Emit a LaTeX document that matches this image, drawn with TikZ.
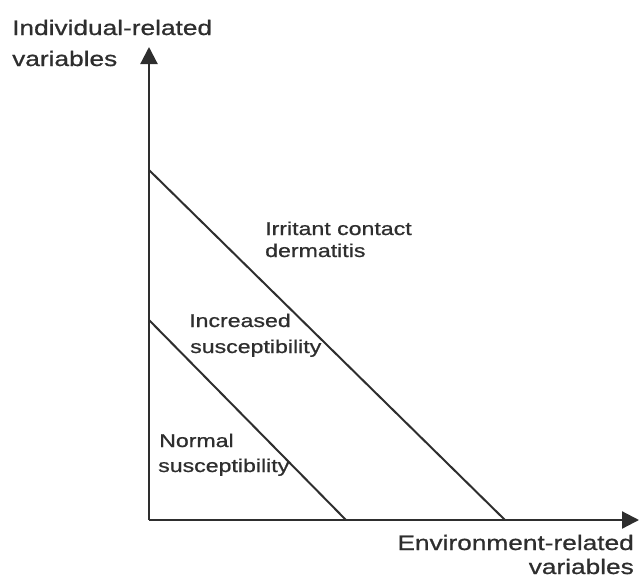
\documentclass[tikz,border=0pt]{standalone}
\usepackage{fontspec}
\setmainfont{Liberation Sans}[FakeStretch=1.25,FakeBold=0.8]
\usetikzlibrary{arrows.meta}
\definecolor{ink}{HTML}{2E2E2E}
\tikzset{
  axis/.style={draw=ink, line width=2.2pt, -{Triangle[length=17pt,width=17pt]}},
  bound/.style={draw=ink, line width=2pt},
  axlabel/.style={text=ink, font=\fontsize{21}{25}\selectfont, inner sep=0pt},
  reglabel/.style={text=ink, font=\fontsize{18.5}{25}\selectfont, inner sep=0pt, anchor=base west},
}
\begin{document}
\begin{tikzpicture}[x=1pt,y=-1pt]
\useasboundingbox (0,0) rectangle (639,579);
\coordinate (O) at (149,520);
\coordinate (Ytop) at (149,47);
\coordinate (Xend) at (639,520);
\coordinate (A1) at (149,170);
\coordinate (B1) at (505,520);
\coordinate (A2) at (149,320);
\coordinate (B2) at (346,520);
\draw[axis] (O) -- (Ytop);
\draw[axis] (O) -- (Xend);
\draw[bound] (A1) -- (B1);
\draw[bound] (A2) -- (B2);
\node[axlabel, anchor=base west] (yl1) at (12,35) {Individual-related};
\node[axlabel, anchor=base west] (yl2) at (12,66) {variables};
\node[axlabel, anchor=base east] (xl1) at (634,550) {Environment-related};
\node[axlabel, anchor=base east] (xl2) at (634,574) {variables};
\node[reglabel] (r1) at (265,235) {Irritant contact};
\node[reglabel] (r2) at (265,257) {dermatitis};
\node[reglabel] (r3) at (189,327) {Increased};
\node[reglabel] (r4) at (190,353) {susceptibility};
\node[reglabel] (r5) at (159,447) {Normal};
\node[reglabel] (r6) at (158,472) {susceptibility};
\end{tikzpicture}
\end{document}
